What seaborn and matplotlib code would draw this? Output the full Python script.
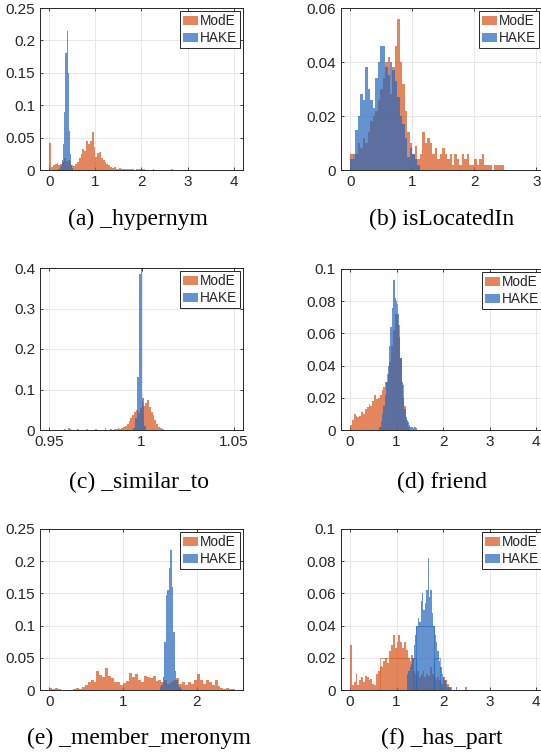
import numpy as np
import pandas as pd
import matplotlib
matplotlib.use('Agg')
import matplotlib.pyplot as plt
import seaborn as sns
from matplotlib.patches import Patch
from matplotlib.ticker import FuncFormatter

sns.set_style('white')
plt.rcParams['font.family'] = ['Liberation Sans', 'DejaVu Sans']

# ---------------- data ----------------
series_names = ['ModE', 'HAKE']
captions = ['(a) _hypernym', '(b) isLocatedIn', '(c) _similar_to',
            '(d) friend', '(e) _member_meronym', '(f) _has_part']

# (a) _hypernym
a_mode_start, a_mode_width = 0.0, 0.04
a_mode = [0.041, 0.004, 0.008, 0.010, 0.011, 0.008, 0.010, 0.013, 0.018, 0.014,
          0.016, 0.012, 0.008, 0.006, 0.010, 0.012, 0.018, 0.024, 0.033, 0.030,
          0.045, 0.040, 0.045, 0.059, 0.035, 0.020, 0.026, 0.028, 0.018, 0.015,
          0.012, 0.010, 0.008, 0.005, 0.003, 0.004, 0.002, 0.002, 0.003, 0.001,
          0.002, 0.001, 0.002, 0.001, 0.002, 0.001, 0.000, 0.001, 0.001, 0.002,
          0.002, 0.001, 0.000, 0.000, 0.000, 0.000, 0.002, 0.000, 0.000, 0.000,
          0.000, 0.000, 0.000, 0.000, 0.000, 0.000, 0.002]
a_hake_start, a_hake_width = 0.2, 0.025
a_hake = [0.002, 0.004, 0.008, 0.015, 0.040, 0.090, 0.180, 0.215, 0.150, 0.060,
          0.025, 0.008, 0.003]

# (b) isLocatedIn
b_mode_start, b_mode_width = 0.0, 0.04
b_mode = [0.006, 0.004, 0.006, 0.010, 0.008, 0.012, 0.010, 0.014, 0.018, 0.020,
          0.022, 0.026, 0.030, 0.034, 0.040, 0.042, 0.028, 0.038, 0.046, 0.056,
          0.040, 0.032, 0.022, 0.014, 0.010, 0.006, 0.009, 0.004, 0.006, 0.014,
          0.010, 0.012, 0.010, 0.006, 0.008, 0.004, 0.006, 0.008, 0.006, 0.004,
          0.006, 0.002, 0.006, 0.004, 0.002, 0.006, 0.004, 0.006, 0.002, 0.002,
          0.004, 0.002, 0.004, 0.006, 0.002, 0.002, 0.002, 0.000, 0.002, 0.002,
          0.002, 0.002]
b_hake_start, b_hake_width = 0.0, 0.04
b_hake = [0.004, 0.006, 0.015, 0.020, 0.028, 0.026, 0.038, 0.030, 0.026, 0.023,
          0.034, 0.040, 0.046, 0.046, 0.038, 0.035, 0.040, 0.037, 0.033, 0.027,
          0.020, 0.017, 0.012, 0.005, 0.008, 0.006, 0.004, 0.002]

# (c) _similar_to
c_mode_start, c_mode_width = 0.958, 0.001
c_mode = [0.002, 0.000, 0.006, 0.002, 0.000, 0.001, 0.000, 0.002, 0.001, 0.000,
          0.001, 0.000, 0.002, 0.000, 0.001, 0.000, 0.001, 0.003, 0.000, 0.001,
          0.000, 0.001, 0.004, 0.001, 0.000, 0.002, 0.001, 0.003, 0.002, 0.004,
          0.003, 0.005, 0.007, 0.010, 0.015, 0.022, 0.030, 0.038, 0.045, 0.050,
          0.042, 0.055, 0.068, 0.060, 0.066, 0.074, 0.058, 0.045, 0.038, 0.025,
          0.015, 0.008, 0.005, 0.003, 0.001]
c_hake_start, c_hake_width = 0.9955, 0.001
c_hake = [0.005, 0.030, 0.130, 0.385, 0.405, 0.080, 0.010]

# (d) friend
d_mode_start, d_mode_width = 0.0, 0.04
d_mode = [0.003, 0.006, 0.010, 0.009, 0.008, 0.009, 0.011, 0.010, 0.013, 0.014,
          0.016, 0.015, 0.018, 0.022, 0.019, 0.020, 0.022, 0.025, 0.027, 0.030,
          0.035, 0.042, 0.052, 0.062, 0.072, 0.078, 0.065, 0.045, 0.028, 0.015,
          0.006, 0.002]
d_hake_start, d_hake_width = 0.63, 0.03
d_hake = [0.002, 0.005, 0.010, 0.015, 0.022, 0.030, 0.040, 0.052, 0.064, 0.076,
          0.093, 0.082, 0.080, 0.072, 0.058, 0.045, 0.030, 0.020, 0.013, 0.008,
          0.005, 0.003, 0.002, 0.002, 0.001, 0.002, 0.001]

# (e) _member_meronym
e_mode_start, e_mode_width = 0.0, 0.04
e_mode = [0.003, 0.002, 0.003, 0.002, 0.000, 0.000, 0.000, 0.000, 0.002, 0.003,
          0.002, 0.005, 0.007, 0.012, 0.015, 0.013, 0.030, 0.024, 0.020, 0.034,
          0.022, 0.018, 0.013, 0.012, 0.008, 0.011, 0.014, 0.026, 0.020, 0.025,
          0.016, 0.013, 0.022, 0.020, 0.018, 0.021, 0.014, 0.016, 0.012, 0.015,
          0.010, 0.012, 0.015, 0.018, 0.010, 0.012, 0.008, 0.013, 0.010, 0.016,
          0.025, 0.015, 0.010, 0.016, 0.012, 0.008, 0.016, 0.006, 0.003, 0.002,
          0.003, 0.002, 0.002]
e_hake_start, e_hake_width = 1.50, 0.02
e_hake = [0.004, 0.008, 0.020, 0.075, 0.148, 0.155, 0.190, 0.218, 0.160, 0.090,
          0.030, 0.015, 0.008, 0.004, 0.002]

# (f) _has_part
f_mode_start, f_mode_width = 0.0, 0.04
f_mode = [0.028, 0.003, 0.005, 0.010, 0.003, 0.006, 0.008, 0.005, 0.009, 0.008,
          0.006, 0.007, 0.004, 0.003, 0.010, 0.012, 0.015, 0.014, 0.018, 0.020,
          0.017, 0.024, 0.028, 0.034, 0.026, 0.030, 0.034, 0.030, 0.026, 0.030,
          0.025, 0.020, 0.018, 0.022, 0.012, 0.010, 0.012, 0.008, 0.010, 0.012,
          0.008, 0.010, 0.009, 0.014, 0.010, 0.008, 0.006, 0.008, 0.006, 0.004,
          0.008, 0.006, 0.004, 0.002, 0.002, 0.000, 0.000, 0.000, 0.000, 0.000,
          0.000, 0.000, 0.002]
f_hake_start, f_hake_width = 1.22, 0.03
f_hake = [0.010, 0.012, 0.014, 0.016, 0.020, 0.028, 0.034, 0.040, 0.045, 0.042,
          0.055, 0.060, 0.050, 0.054, 0.062, 0.082, 0.058, 0.062, 0.048, 0.040,
          0.034, 0.030, 0.024, 0.018, 0.014, 0.010, 0.008, 0.006, 0.004, 0.002,
          0.002, 0.001, 0.000, 0.000, 0.000, 0.002]
# coarse outline bins visible in (f)
f_hake_outline_edges = [1.36, 1.42, 1.81, 1.94]
f_hake_outline = [0.02, 0.04, 0.02]
f_mode_outline_edges = [0.65, 1.36]
f_mode_outline = [0.02]

x_ticks = [[0, 1, 2, 3, 4], [0, 1, 2, 3], [0.95, 1.0, 1.05],
           [0, 1, 2, 3, 4], [0, 1, 2], [0, 1, 2, 3, 4]]
y_ticks = [[0, 0.05, 0.1, 0.15, 0.2, 0.25], [0, 0.02, 0.04, 0.06],
           [0, 0.1, 0.2, 0.3, 0.4], [0, 0.02, 0.04, 0.06, 0.08, 0.1],
           [0, 0.05, 0.1, 0.15, 0.2, 0.25], [0, 0.02, 0.04, 0.06, 0.08, 0.1]]

# ---------------- styling ----------------
W, H = 541, 754
fig = plt.figure(figsize=(W / 100, H / 100), dpi=100)

color_mode = '#D95319'
color_hake = '#2366BC'
ALPHA = 0.7
dark = '#262626'

# axes boxes in pixels: left, right, top, bottom
boxes = [(40, 243, 8, 170), (341, 542.5, 8, 170),
         (40, 243, 268, 430), (340.7, 545.3, 269, 430),
         (40, 243, 529, 690), (340.7, 545.3, 529, 690)]
xlims = [(-0.2, 4.2), (-0.15, 3.1), (0.945, 1.055),
         (-0.2, 4.2), (-0.125, 2.625), (-0.2, 4.2)]
caption_pos = [(138, 219), (442, 219), (139, 482), (442, 482), (139, 738), (442, 738)]

panels = [
    (a_mode_start, a_mode_width, a_mode, a_hake_start, a_hake_width, a_hake),
    (b_mode_start, b_mode_width, b_mode, b_hake_start, b_hake_width, b_hake),
    (c_mode_start, c_mode_width, c_mode, c_hake_start, c_hake_width, c_hake),
    (d_mode_start, d_mode_width, d_mode, d_hake_start, d_hake_width, d_hake),
    (e_mode_start, e_mode_width, e_mode, e_hake_start, e_hake_width, e_hake),
    (f_mode_start, f_mode_width, f_mode, f_hake_start, f_hake_width, f_hake),
]


def draw_hist(ax, start, width, heights, color):
    n = len(heights)
    edges = start + width * np.arange(n + 1)
    df = pd.DataFrame({'value': edges[:-1] + width / 2, 'prob': heights})
    sns.histplot(data=df, x='value', weights='prob', bins=list(edges), stat='count',
                 color=color, alpha=ALPHA, linewidth=0, ax=ax)


def draw_outline(ax, edges, heights, color):
    edges = np.asarray(edges)
    df = pd.DataFrame({'value': (edges[:-1] + edges[1:]) / 2, 'prob': heights})
    sns.histplot(data=df, x='value', weights='prob', bins=list(edges), stat='count',
                 element='bars', fill=False, color=color, alpha=0.5,
                 linewidth=0.8, ax=ax)


fmt = FuncFormatter(lambda v, p: f'{v:g}')

for i, (ms, mw, mv, hs, hw, hv) in enumerate(panels):
    l, r, t, b = boxes[i]
    ax = fig.add_axes([l / W, 1 - b / H, (r - l) / W, (b - t) / H])
    draw_hist(ax, ms, mw, mv, color_mode)
    draw_hist(ax, hs, hw, hv, color_hake)
    if i == 5:
        draw_outline(ax, f_mode_outline_edges, f_mode_outline, color_mode)
        draw_outline(ax, f_hake_outline_edges, f_hake_outline, color_hake)
    ax.set_xlim(*xlims[i])
    ax.set_ylim(y_ticks[i][0], y_ticks[i][-1])
    ax.set_xticks(x_ticks[i])
    ax.set_yticks(y_ticks[i])
    ax.xaxis.set_major_formatter(fmt)
    ax.yaxis.set_major_formatter(fmt)
    ax.set_xlabel('')
    ax.set_ylabel('')
    ax.grid(True, color='#e3e3e3', linewidth=0.6)
    ax.set_axisbelow(True)
    for s in ax.spines.values():
        s.set_color(dark)
        s.set_linewidth(0.7)
        s.set_visible(True)
    ax.tick_params(direction='in', length=2.5, width=0.6, color=dark,
                   labelcolor=dark, labelsize=11, pad=3.5,
                   top=True, right=True, bottom=True, left=True)
    handles = [Patch(facecolor=color_mode, alpha=ALPHA, edgecolor='none', label=series_names[0]),
               Patch(facecolor=color_hake, alpha=ALPHA, edgecolor='none', label=series_names[1])]
    leg = ax.legend(handles=handles, loc='upper right', fontsize=9.8,
                    frameon=True, fancybox=False, framealpha=1,
                    edgecolor=dark, borderpad=0.2, labelspacing=0.22,
                    handlelength=1.1, handleheight=0.65, handletextpad=0.15,
                    borderaxespad=0.25)
    leg.get_frame().set_linewidth(0.7)
    cx, cy = caption_pos[i]
    fig.text(cx / W, 1 - cy / H, captions[i], ha='center', va='center',
             fontsize=17, family=['Liberation Serif', 'DejaVu Serif'], color='black')

fig.savefig('out.png', dpi=100)
